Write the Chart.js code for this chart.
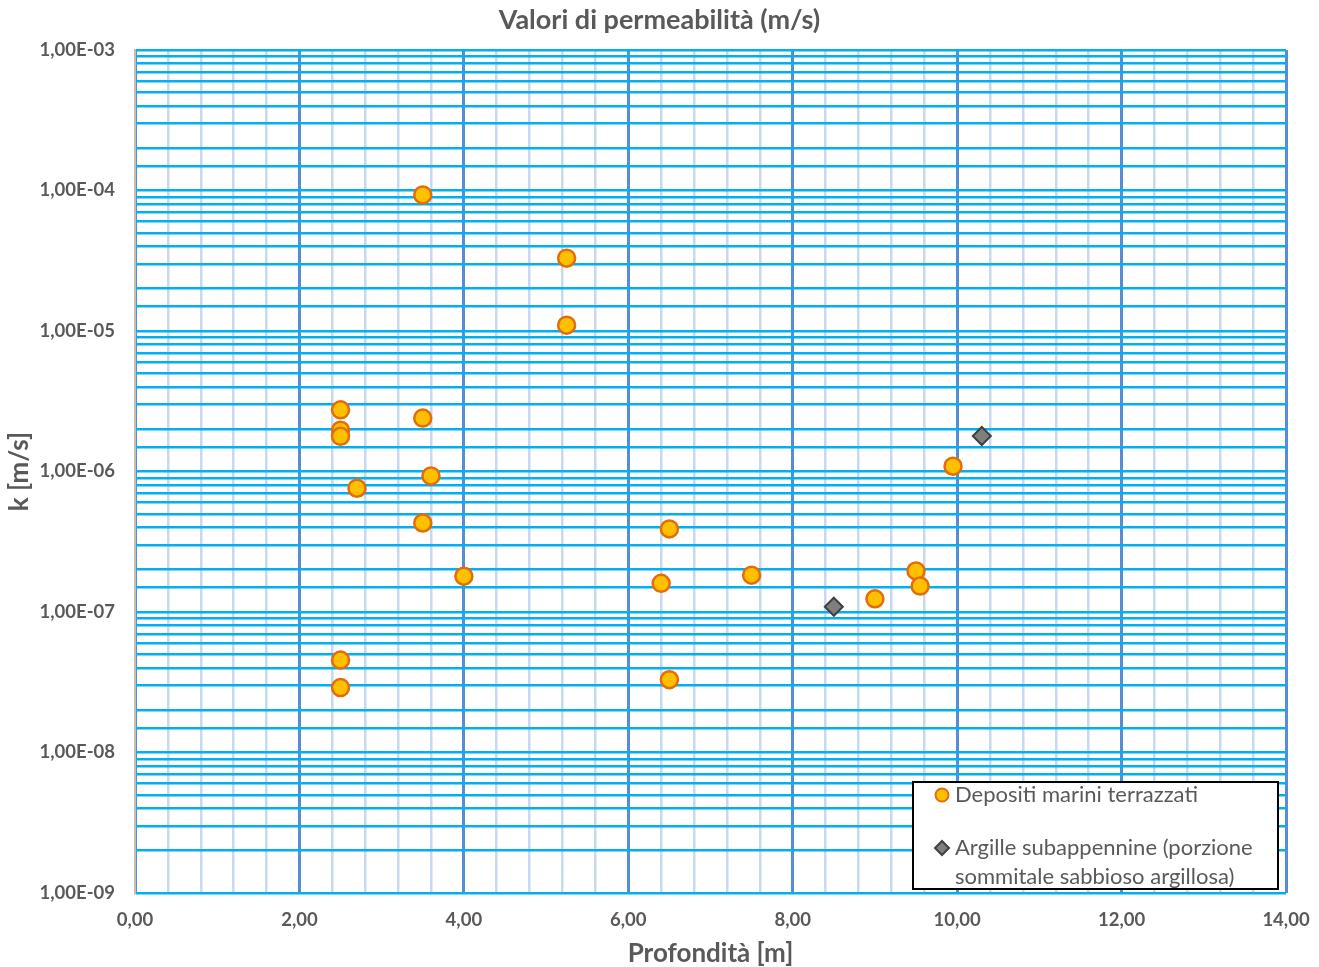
<!DOCTYPE html>
<html>
<head>
<meta charset="utf-8">
<script src="https://cdn.jsdelivr.net/npm/chart.js@4.4.1/dist/chart.umd.min.js"></script>
<style>
  html, body { margin: 0; padding: 0; background: #fff; }
  #wrap { width: 1319px; height: 967px; }
</style>
</head>
<body>
<div id="wrap"><canvas id="permChart" width="1319" height="967"></canvas></div>
<script>
// Data
const depositiDepth = [3.5, 5.25, 5.25, 2.5, 2.5, 2.5, 3.5, 3.6, 2.7, 3.5, 4.0, 2.5, 2.5, 6.5, 6.4, 6.5, 7.5, 9.0, 9.5, 9.55, 9.95];
const depositiK = [9.3e-5, 3.3e-5, 1.1e-5, 2.75e-6, 1.97e-6, 1.78e-6, 2.4e-6, 9.3e-7, 7.6e-7, 4.3e-7, 1.8e-7, 4.55e-8, 2.9e-8, 3.9e-7, 1.6e-7, 3.3e-8, 1.83e-7, 1.24e-7, 1.96e-7, 1.53e-7, 1.09e-6];
const argilleDepth = [8.5, 10.3];
const argilleK = [1.09e-7, 1.79e-6];

const seriesNames = ['Depositi marini terrazzati', 'Argille subappennine (porzione sommitale sabbioso argillosa)'];
const xMin = 0, xMax = 14, xMinorStep = 0.4, xMajorStep = 2;
const yMin = 1e-9, yMax = 1e-3;

const textGrey = '#595959';
const fontFam = 'Lato, "Open Sans", sans-serif';

function toPoints(xs, ys) {
    return xs.map((x, i) => ({ x: x, y: ys[i] }));
}

function isDecade(v) {
    const e = Math.log10(v);
    return Math.abs(e - Math.round(e)) < 1e-9;
}

function isMajorX(v) {
    const r = v / xMajorStep;
    return Math.abs(r - Math.round(r)) < 1e-6;
}

// legend box drawn inside the plot area, like the original
const insideLegend = {
    id: 'insideLegend',
    afterDraw(chart) {
        const c = chart.ctx;
        const bx = 913, by = 782, bw = 365, bh = 107;
        c.save();
        c.fillStyle = '#ffffff';
        c.fillRect(bx, by, bw, bh);
        c.strokeStyle = '#000000';
        c.lineWidth = 2;
        c.strokeRect(bx, by, bw, bh);

        // marker 1
        c.beginPath();
        c.arc(942, 795, 6.5, 0, Math.PI * 2);
        c.fillStyle = '#FFC000';
        c.fill();
        c.lineWidth = 2;
        c.strokeStyle = '#E46C0A';
        c.stroke();

        // marker 2
        c.beginPath();
        c.moveTo(942, 841);
        c.lineTo(949, 848);
        c.lineTo(942, 855);
        c.lineTo(935, 848);
        c.closePath();
        c.fillStyle = '#7F7F7F';
        c.fill();
        c.strokeStyle = '#404040';
        c.stroke();

        c.fillStyle = textGrey;
        c.font = '22px ' + fontFam;
        c.textBaseline = 'middle';
        c.textAlign = 'left';
        c.fillText(seriesNames[0], 955, 795);
        c.fillText('Argille subappennine (porzione', 955, 848);
        c.fillText('sommitale sabbioso argillosa)', 955, 877);
        c.restore();
    }
};

const ctx = document.getElementById('permChart').getContext('2d');

const chart = new Chart(ctx, {
    type: 'scatter',
    data: {
        datasets: [
            {
                label: seriesNames[0],
                data: toPoints(depositiDepth, depositiK),
                pointStyle: 'circle',
                pointRadius: 8.5,
                pointBorderWidth: 2.5,
                backgroundColor: '#FFC000',
                borderColor: '#E46C0A'
            },
            {
                label: seriesNames[1],
                data: toPoints(argilleDepth, argilleK),
                pointStyle: 'rectRot',
                pointRadius: 9,
                pointBorderWidth: 2,
                backgroundColor: '#7F7F7F',
                borderColor: '#404040'
            }
        ]
    },
    options: {
        responsive: false,
        animation: false,
        layout: { padding: 0 },
        plugins: {
            legend: { display: false },
            tooltip: { enabled: false },
            title: {
                display: true,
                text: 'Valori di permeabilità (m/s)',
                color: textGrey,
                font: { family: fontFam, size: 27, weight: 'bold', lineHeight: 1.2 },
                padding: { top: 4, bottom: 13.6 }
            }
        },
        scales: {
            x: {
                type: 'linear',
                min: xMin,
                max: xMax,
                afterBuildTicks(axis) {
                    const t = [];
                    const n = Math.round((xMax - xMin) / xMinorStep);
                    for (let i = 0; i <= n; i++) t.push({ value: +(xMin + i * xMinorStep).toFixed(2) });
                    axis.ticks = t;
                },
                afterFit(axis) {
                    axis.height = 74;
                    axis.paddingLeft = 0;
                    axis.paddingRight = 33;
                },
                ticks: {
                    autoSkip: false,
                    maxRotation: 0,
                    padding: 16,
                    color: textGrey,
                    font: { family: fontFam, size: 18.5, weight: 'bold' },
                    callback(v) { return isMajorX(v) ? v.toFixed(2).replace('.', ',') : ''; }
                },
                grid: {
                    drawTicks: false,
                    color(c) { return isMajorX(c.tick.value) ? '#558ED5' : '#C6D9F1'; },
                    lineWidth(c) { return isMajorX(c.tick.value) ? 3 : 2.5; }
                },
                border: { display: false },
                title: {
                    display: true,
                    text: 'Profondità [m]',
                    color: textGrey,
                    font: { family: fontFam, size: 26, weight: 'bold', lineHeight: 1 },
                    padding: { top: 1, bottom: 0 }
                }
            },
            y: {
                type: 'logarithmic',
                min: yMin,
                max: yMax,
                afterFit(axis) { axis.width = 135; },
                ticks: {
                    autoSkip: false,
                    padding: 20,
                    color: textGrey,
                    font: { family: fontFam, size: 18.5, weight: 'bold' },
                    callback(v) {
                        if (!isDecade(v)) return '';
                        const e = Math.round(Math.log10(v));
                        return '1,00E-' + String(-e).padStart(2, '0');
                    }
                },
                grid: {
                    drawTicks: false,
                    color: '#00B0F0',
                    lineWidth: 2.5
                },
                border: { display: true, color: '#BFBFBF', width: 2 },
                title: {
                    display: true,
                    text: 'k [m/s]',
                    color: textGrey,
                    font: { family: fontFam, size: 26, weight: 'bold', lineHeight: 1 },
                    padding: { top: 7, bottom: 0 }
                }
            }
        }
    },
    plugins: [insideLegend]
});
</script>
</body>
</html>
